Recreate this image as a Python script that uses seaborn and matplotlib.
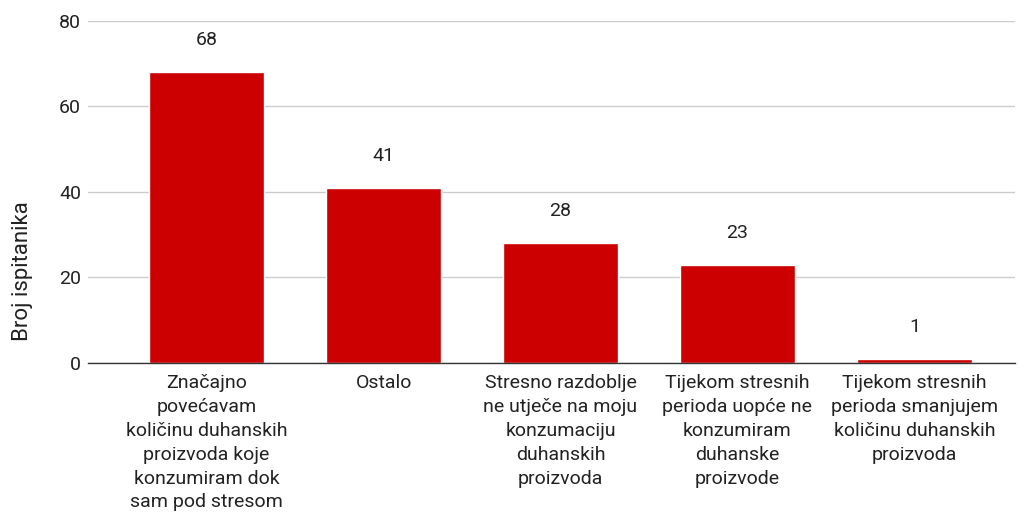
import matplotlib
matplotlib.use("Agg")
import matplotlib.pyplot as plt
import seaborn as sns
import pandas as pd

categories = [
    "Značajno\npovećavam\nkoličinu duhanskih\nproizvoda koje\nkonzumiram dok\nsam pod stresom",
    "Ostalo",
    "Stresno razdoblje\nne utječe na moju\nkonzumaciju\nduhanskih\nproizvoda",
    "Tijekom stresnih\nperioda uopće ne\nkonzumiram\nduhanske\nproizvode",
    "Tijekom stresnih\nperioda smanjujem\nkoličinu duhanskih\nproizvoda",
]
values = [68, 41, 28, 23, 1]
y_ticks = [0, 20, 40, 60, 80]
y_label = "Broj ispitanika"

sns.set_theme(style="white")
plt.rcParams['font.family'] = ['Roboto', 'DejaVu Sans']

df = pd.DataFrame({"cat": categories, "val": values})

fig = plt.figure(figsize=(10.19, 5.17), dpi=100)
ax = fig.add_axes([0.0864, 0.2979, 0.910, 0.6615])
sns.barplot(data=df, x="cat", y="val", color="#cc0000", saturation=1, width=0.65, ax=ax)

ax.set_ylim(0, 80)
ax.set_yticks(y_ticks)
ax.set_xlim(-0.67, 4.57)
ax.grid(axis="y", color="#cccccc", linewidth=1)
ax.set_axisbelow(True)
for s in ["top", "right", "left"]:
    ax.spines[s].set_visible(False)
ax.spines["bottom"].set_color("#333333")
ax.spines["bottom"].set_linewidth(1)
ax.tick_params(axis="both", length=0, labelsize=14, colors="#222222")
ax.tick_params(axis="y", pad=5)
ax.tick_params(axis="x", pad=8)
for lbl in ax.get_xticklabels():
    lbl.set_linespacing(1.42)
    lbl.set_ha("center")
ax.set_xlabel("")
ax.set_ylabel(y_label, fontsize=16, color="#222222")
ax.yaxis.set_label_coords(-0.0705, 0.27)
ax.yaxis.label.set_va("center")

for p, v in zip(ax.patches, values):
    ax.annotate(str(v), (p.get_x() + p.get_width() / 2, p.get_height()),
                xytext=(0, 23), textcoords="offset points", ha="center", va="center",
                fontsize=14, color="#222222")

fig.savefig("out.png", dpi=100)
